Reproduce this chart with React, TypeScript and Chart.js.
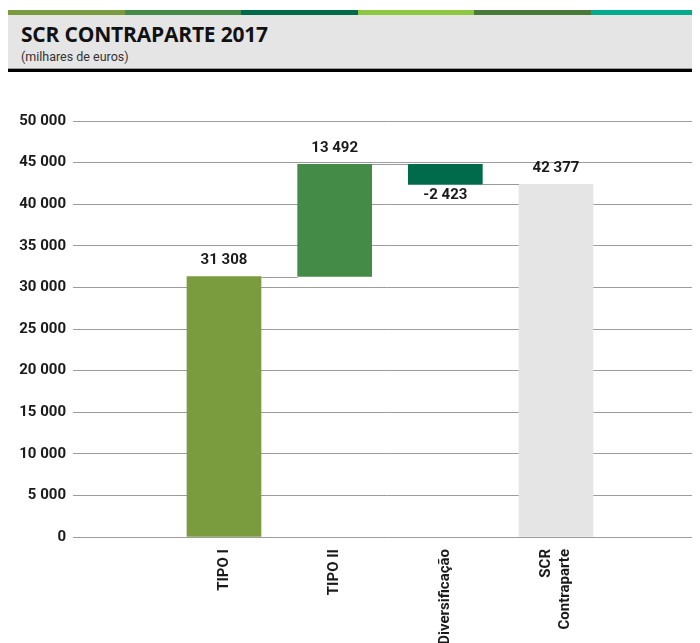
import React, { useEffect, useRef } from 'react';
import { Chart, registerables } from 'chart.js';

Chart.register(...registerables);

const title = 'SCR CONTRAPARTE 2017';
const subtitle = '(milhares de euros)';
const categories: (string | string[])[] = ['TIPO I', 'TIPO II', 'Diversificação', ['SCR', 'Contraparte']];
const values = [31308, 13492, -2423, 42377];
const isTotal = [false, false, false, true];
const barColors = ['#7a9c3e', '#458b48', '#006b4a', '#e5e5e5'];
const yMin = 0;
const yMax = 50000;
const yStep = 5000;
const stripeColors = ['#7a9c3e', '#458b48', '#006b4a', '#8dc63f', '#4a7a3a', '#00ab8e'];

const FONT = 'Roboto, "Liberation Sans", sans-serif';
const TITLE_FONT = '"Open Sans", Roboto, sans-serif';

function fmt(n: number): string {
  const s = Math.abs(n).toString().replace(/\B(?=(\d{3})+(?!\d))/g, ' ');
  return (n < 0 ? '-' : '') + s;
}

function buildRanges(): [number, number][] {
  let running = 0;
  return values.map((v, i) => {
    if (isTotal[i]) {
      running = v;
      return [0, v] as [number, number];
    }
    const r: [number, number] = [running, running + v];
    running += v;
    return r;
  });
}

const X_LABEL_PAD = 12;
const X_LINE_H = 19;

const waterfallPlugin = {
  id: 'waterfallExtras',
  afterDatasetsDraw(chart: any) {
    const ctx = chart.ctx;
    const meta = chart.getDatasetMeta(0);
    const yScale = chart.scales.y;
    const xScale = chart.scales.x;
    const ranges = buildRanges();
    ctx.save();
    // connectors
    ctx.strokeStyle = '#9a9a9a';
    ctx.lineWidth = 1;
    for (let i = 0; i < ranges.length - 1; i++) {
      const a: any = meta.data[i];
      const b: any = meta.data[i + 1];
      const level = ranges[i][1];
      const y = Math.round(yScale.getPixelForValue(level)) + 0.5;
      ctx.beginPath();
      ctx.moveTo(a.x + a.width / 2, y);
      ctx.lineTo(b.x - b.width / 2, y);
      ctx.stroke();
    }
    // value labels
    ctx.fillStyle = '#1a1a1a';
    ctx.font = `bold 15px ${FONT}`;
    ctx.textAlign = 'center';
    ctx.textBaseline = 'middle';
    values.forEach((v, i) => {
      const el: any = meta.data[i];
      const top = Math.min(el.y, el.base);
      const bottom = Math.max(el.y, el.base);
      if (v >= 0) {
        ctx.fillText(fmt(v), el.x, top - 16);
      } else {
        ctx.fillText(fmt(v), el.x, bottom + 11);
      }
    });
    // category labels (rotated, multi-line centred on the tick)
    ctx.font = `bold 15px ${FONT}`;
    ctx.textAlign = 'right';
    ctx.textBaseline = 'middle';
    categories.forEach((c, i) => {
      const lines = Array.isArray(c) ? c : [c];
      const x = xScale.getPixelForValue(i + 1);
      const y = xScale.top + X_LABEL_PAD;
      lines.forEach((line, j) => {
        const off = (j - (lines.length - 1) / 2) * X_LINE_H;
        ctx.save();
        ctx.translate(x + off, y);
        ctx.rotate(-Math.PI / 2);
        ctx.fillText(line, 0, 0);
        ctx.restore();
      });
    });
    ctx.restore();
  },
};

function WaterfallChart() {
  const ref = useRef<HTMLCanvasElement>(null);
  useEffect(() => {
    if (!ref.current) return;
    const ranges = buildRanges();
    const chart = new Chart(ref.current, {
      type: 'bar',
      data: {
        datasets: [
          {
            data: ranges.map((r, i) => ({ x: i + 1, y: r })) as any,
            backgroundColor: barColors,
            borderWidth: 0,
            barThickness: 74,
          },
        ],
      },
      options: {
        responsive: false,
        animation: false,
        devicePixelRatio: 1,
        layout: { padding: { top: 41, left: 0, right: 0, bottom: 0 } },
        plugins: {
          legend: { display: false },
          tooltip: { enabled: false },
        },
        scales: {
          x: {
            type: 'linear',
            offset: false,
            min: -0.3645,
            max: 5.3012,
            grid: { display: false, drawTicks: false, offset: false },
            border: { display: false },
            afterBuildTicks: (scale: any) => {
              scale.ticks = categories.map((_, i) => ({ value: i + 1 }));
            },
            afterFit: (scale: any) => {
              scale.height = 143;
            },
            ticks: { display: false },
          },
          y: {
            min: yMin,
            max: yMax,
            grid: { color: '#9c9c9c', lineWidth: 1, drawTicks: false },
            border: { display: false },
            afterFit: (scale: any) => {
              scale.width = 65;
            },
            ticks: {
              stepSize: yStep,
              padding: 7,
              color: '#1a1a1a',
              font: { family: FONT, size: 15, weight: 'bold' },
              callback: (v: any) => fmt(Number(v)),
            },
          },
        },
      },
      plugins: [waterfallPlugin],
    });
    return () => chart.destroy();
  }, []);
  return (
    <canvas
      ref={ref}
      width={692}
      height={600}
      style={{ position: 'absolute', left: 0, top: 72, width: 692, height: 600 }}
    />
  );
}

export default function App() {
  const segW = 116.5;
  return (
    <div style={{ position: 'relative', width: 692, height: 635, overflow: 'hidden', fontFamily: FONT }}>
      {stripeColors.map((c, i) => (
        <div
          key={i}
          style={{
            position: 'absolute',
            top: 2,
            height: 5,
            left: i * segW,
            width: i === stripeColors.length - 1 ? 692 - i * segW : segW,
            background: c,
          }}
        />
      ))}
      <div style={{ position: 'absolute', top: 7, left: 0, width: 692, height: 54, background: '#e5e5e5' }} />
      <div style={{ position: 'absolute', top: 60, left: 0, width: 692, height: 1, background: '#9a9a9a' }} />
      <div style={{ position: 'absolute', top: 61, left: 0, width: 692, height: 3, background: '#000' }} />
      <div
        style={{
          position: 'absolute',
          top: 14,
          left: 13,
          fontFamily: TITLE_FONT,
          fontSize: 21,
          lineHeight: '24px',
          fontWeight: 'bold',
          color: '#111',
          letterSpacing: '-0.2px',
          whiteSpace: 'nowrap',
        }}
      >
        {title}
      </div>
      <div
        style={{
          position: 'absolute',
          top: 42,
          left: 13,
          fontSize: 12.5,
          lineHeight: '14px',
          color: '#333',
          whiteSpace: 'nowrap',
        }}
      >
        {subtitle}
      </div>
      <WaterfallChart />
    </div>
  );
}
